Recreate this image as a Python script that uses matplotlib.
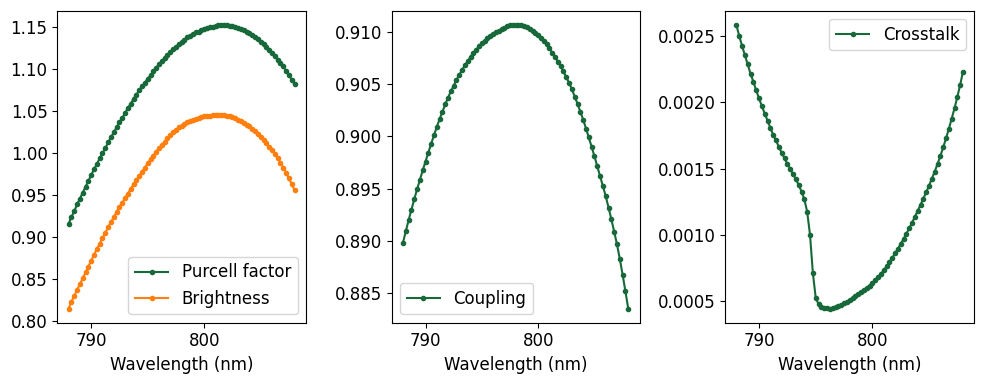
import matplotlib
matplotlib.use("Agg")
import matplotlib.pyplot as plt

wavelength = [
    788.00, 788.25, 788.50, 788.75, 789.00, 789.25, 789.50, 789.75,
    790.00, 790.25, 790.50, 790.75, 791.00, 791.25, 791.50, 791.75,
    792.00, 792.25, 792.50, 792.75, 793.00, 793.25, 793.50, 793.75,
    794.00, 794.25, 794.50, 794.75, 795.00, 795.25, 795.50, 795.75,
    796.00, 796.25, 796.50, 796.75, 797.00, 797.25, 797.50, 797.75,
    798.00, 798.25, 798.50, 798.75, 799.00, 799.25, 799.50, 799.75,
    800.00, 800.25, 800.50, 800.75, 801.00, 801.25, 801.50, 801.75,
    802.00, 802.25, 802.50, 802.75, 803.00, 803.25, 803.50, 803.75,
    804.00, 804.25, 804.50, 804.75, 805.00, 805.25, 805.50, 805.75,
    806.00, 806.25, 806.50, 806.75, 807.00, 807.25, 807.50, 807.75,
    808.00,
]

purcell = [
    0.916, 0.924, 0.931, 0.939, 0.946, 0.953, 0.960, 0.967,
    0.974, 0.981, 0.987, 0.994, 1.000, 1.006, 1.013, 1.019,
    1.025, 1.031, 1.037, 1.042, 1.048, 1.054, 1.059, 1.065,
    1.070, 1.075, 1.080, 1.084, 1.089, 1.093, 1.098, 1.102,
    1.106, 1.110, 1.114, 1.117, 1.121, 1.124, 1.127, 1.130,
    1.133, 1.135, 1.138, 1.140, 1.142, 1.144, 1.145, 1.147,
    1.148, 1.149, 1.150, 1.151, 1.152, 1.1525, 1.153, 1.153,
    1.1528, 1.1522, 1.1515, 1.1505, 1.1495, 1.148, 1.1465, 1.145,
    1.143, 1.141, 1.1385, 1.136, 1.133, 1.130, 1.1265, 1.123,
    1.1195, 1.1155, 1.111, 1.107, 1.1035, 1.098, 1.093, 1.0875,
    1.082,
]

brightness = [
    0.815, 0.823, 0.830, 0.837, 0.844, 0.851, 0.858, 0.865,
    0.872, 0.879, 0.886, 0.892, 0.899, 0.905, 0.912, 0.918,
    0.924, 0.930, 0.936, 0.941, 0.947, 0.952, 0.958, 0.963,
    0.968, 0.973, 0.978, 0.983, 0.988, 0.993, 0.997, 1.002,
    1.006, 1.010, 1.014, 1.018, 1.022, 1.025, 1.028, 1.031,
    1.033, 1.035, 1.037, 1.039, 1.040, 1.041, 1.042, 1.043,
    1.044, 1.0445, 1.045, 1.0455, 1.046, 1.046, 1.0458, 1.0455,
    1.045, 1.044, 1.0428, 1.0415, 1.040, 1.038, 1.036, 1.034,
    1.032, 1.029, 1.026, 1.023, 1.020, 1.016, 1.012, 1.008,
    1.004, 0.999, 0.994, 0.989, 0.983, 0.977, 0.970, 0.963,
    0.956,
]

coupling = [
    0.88985, 0.89095, 0.89200, 0.89300, 0.89400, 0.89495, 0.89585, 0.89675,
    0.89760, 0.89845, 0.89930, 0.90010, 0.90090, 0.90165, 0.90235, 0.90305,
    0.90370, 0.90430, 0.90485, 0.90540, 0.90590, 0.90635, 0.90680, 0.90720,
    0.90760, 0.90795, 0.90830, 0.90860, 0.90890, 0.90915, 0.90940, 0.90960,
    0.90980, 0.90995, 0.91010, 0.91025, 0.91040, 0.91050, 0.91060, 0.91065,
    0.91065, 0.91065, 0.91060, 0.91055, 0.91045, 0.91030, 0.91010, 0.90990,
    0.90970, 0.90940, 0.90910, 0.90880, 0.90840, 0.90800, 0.90760, 0.90715,
    0.90670, 0.90620, 0.90565, 0.90510, 0.90450, 0.90380, 0.90310, 0.90235,
    0.90160, 0.90075, 0.89990, 0.89900, 0.89810, 0.89715, 0.89620, 0.89525,
    0.89430, 0.89320, 0.89210, 0.89090, 0.88970, 0.88830, 0.88680, 0.88520,
    0.88356,
]

crosstalk = [
    0.002582, 0.002500, 0.002425, 0.002355, 0.002285, 0.002215, 0.002155, 0.002090,
    0.002028, 0.001972, 0.001915, 0.001862, 0.001808, 0.001755, 0.001712, 0.001664,
    0.001619, 0.001577, 0.001536, 0.001500, 0.001458, 0.001420, 0.001378, 0.001327,
    0.001270, 0.001175, 0.001002, 0.000716, 0.000530, 0.000479, 0.000462, 0.000454,
    0.000449, 0.000447, 0.000449, 0.000456, 0.000465, 0.000476, 0.000487, 0.000498,
    0.000511, 0.000524, 0.000539, 0.000553, 0.000570, 0.000586, 0.000603, 0.000620,
    0.000638, 0.000662, 0.000684, 0.000708, 0.000734, 0.000764, 0.000795, 0.000828,
    0.000862, 0.000897, 0.000933, 0.000971, 0.001010, 0.001051, 0.001093, 0.001137,
    0.001183, 0.001228, 0.001275, 0.001322, 0.001372, 0.001425, 0.001478, 0.001535,
    0.001595, 0.001660, 0.001728, 0.001800, 0.001876, 0.001955, 0.002040, 0.002132,
    0.002231,
]

GREEN = "#17693a"
ORANGE = "#ff7f0e"
FS = 12

fig = plt.figure(figsize=(9.84, 3.84), dpi=100)
bottom, height = 0.1596, 0.8125
ax1 = fig.add_axes([0.0582, bottom, 0.2527, height])
ax2 = fig.add_axes([0.3981, bottom, 0.2518, height])
ax3 = fig.add_axes([0.7368, bottom, 0.2534, height])

kw = dict(marker="o", markersize=3, linewidth=1.5)
ax1.plot(wavelength, purcell, color=GREEN, label="Purcell factor", **kw)
ax1.plot(wavelength, brightness, color=ORANGE, label="Brightness", **kw)
ax1.legend(loc="lower right", fontsize=FS)

ax2.plot(wavelength, coupling, color=GREEN, label="Coupling", **kw)
ax2.legend(loc="lower left", fontsize=FS)

ax3.plot(wavelength, crosstalk, color=GREEN, label="Crosstalk", **kw)
ax3.legend(loc="upper right", fontsize=FS)

ax1.set_yticks([0.80, 0.85, 0.90, 0.95, 1.00, 1.05, 1.10, 1.15])
ax2.set_yticks([0.885, 0.890, 0.895, 0.900, 0.905, 0.910])
ax3.set_yticks([0.0005, 0.0010, 0.0015, 0.0020, 0.0025])

for ax in (ax1, ax2, ax3):
    ax.set_xticks([790, 800])
    ax.set_xlabel("Wavelength (nm)", fontsize=FS)
    ax.tick_params(labelsize=FS)

fig.savefig("out.png", dpi=100)
